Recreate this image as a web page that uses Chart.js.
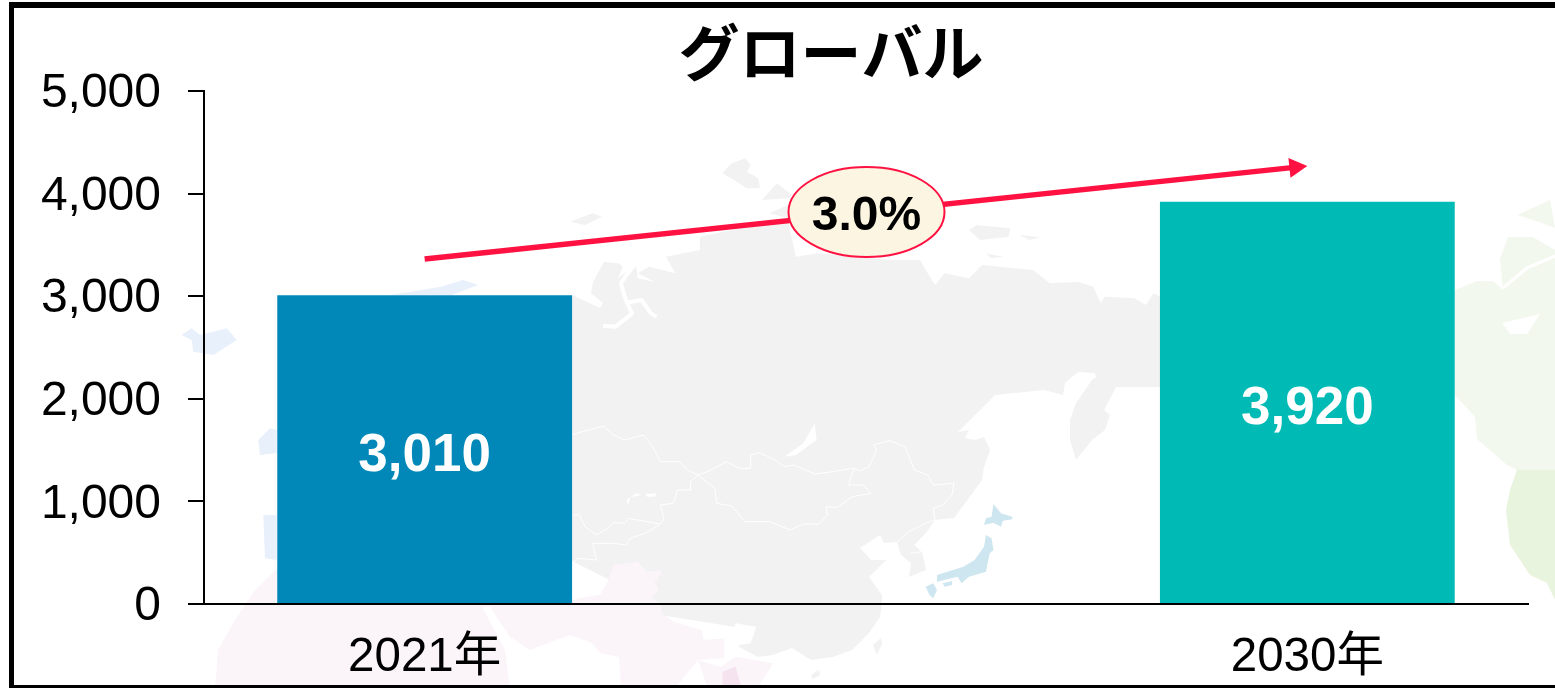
<!DOCTYPE html>
<html>
<head>
<meta charset="utf-8">
<title>グローバル</title>
<script src="https://cdn.jsdelivr.net/npm/chart.js@4"></script>
<style>
  html, body { margin: 0; padding: 0; background: #fff; overflow: hidden; }
  canvas { display: block; }
</style>
</head>
<body>
<canvas id="myChart" width="1555" height="688"></canvas>
<script>
const titleText = 'グローバル';
const categories = ['2021年', '', '2030年'];
const marketValues = [3010, null, 3920];
const barColors = ['#0288B8', '#0288B8', '#00BAB5'];
const trendValues = [3363, null, 4269];
const growthLabel = '3.0%';
const growthValue = 3820;
const yTicks = [0, 1000, 2000, 3000, 4000, 5000];

const FONT = '"Liberation Sans", "Noto Sans CJK JP", sans-serif';
const RED = '#FF1241';

// faint world map behind the chart
const crop = (ox, oy, sx, sy, pts) => pts.map(p => [ox + p[0] * sx, oy + p[1] * sy]);
const north = pts => crop(570, 150, 0.3764, 1 / 3, pts);
const south = pts => crop(570, 400, 0.3764, 1 / 3, pts);

const greyLand = [
  [572, 295], [600, 308], [603, 303], [591, 293], [593, 282], [604, 262],
  ...north([[130, 340], [140, 350], [128, 385], [150, 365], [175, 340], [180, 385], [225, 395], [180, 370], [210, 350],
    [280, 370], [255, 320], [345, 300], [345, 260], [430, 240], [580, 215], [600, 320], [660, 310], [850, 330], [930, 330],
    [945, 360], [970, 405], [995, 370], [1060, 385], [1095, 345], [1180, 355], [1230, 360], [1275, 400], [1350, 395],
    [1390, 410], [1410, 460], [1420, 440], [1500, 445], [1530, 465], [1550, 430], [1568, 440]]),
  [1165, 300], [1165, 387], [1116, 387], [1104, 410], [1110, 415], [1105, 430], [1092, 440], [1076, 460], [1070, 440],
  [1070, 420], [1076, 403], [1092, 380], [1112, 365], [1123, 366], [1097, 380], [1095, 373], [1078, 372], [1065, 383],
  [1063, 395], [1044, 390], [995, 395], [973, 417], [958, 432], [969, 430], [965, 438], [975, 440], [984, 437], [990, 450],
  [984, 467], [982, 480], [954, 518], [935, 520], [926, 533], [914, 545], [922, 552], [926, 570], [909, 577], [911, 563],
  [901, 555], [897, 542], [884, 543], [880, 535], [860, 548], [871, 560], [886, 560], [869, 577], [882, 595], [882, 600],
  [880, 617], [869, 633], [852, 650], [833, 657], [811, 660], [792, 648], [773, 655], [758, 657], [739, 647], [735, 627],
  [660, 615], [630, 590], [570, 560]
];
const greyIslands = [
  north([[0, 215], [60, 190], [85, 200], [40, 225]]),
  north([[405, 70], [430, 40], [465, 25], [480, 45], [470, 65], [500, 85], [505, 115], [470, 115], [435, 90]]),
  north([[510, 150], [550, 100], [590, 135], [580, 145]]),
  north([[530, 190], [580, 165], [580, 205]]),
  north([[1060, 240], [1080, 225], [1170, 235], [1165, 260], [1090, 270]]),
  north([[1195, 255], [1250, 262], [1220, 270]]),
  north([[1105, 310], [1150, 320], [1120, 325]]),
  south([[805, 735], [825, 715], [830, 730], [815, 765]]),
  south([[640, 825], [660, 810], [665, 825], [645, 838]])
];
const pinkLand = [
  [572, 600],
  ...south([[45, 590], [80, 585], [100, 545], [115, 495], [180, 485], [205, 515], [240, 510], [245, 520], [225, 545], [235, 570],
    [215, 595], [240, 610], [245, 640], [275, 665], [350, 690], [355, 720], [410, 715], [410, 775], [340, 780]]),
  [675, 688], [621, 688], [619, 657], [600, 653], [592, 643], [570, 635], [530, 650], [510, 637], [490, 607], [482, 607],
  [505, 650], [510, 688], [215, 688], [218, 650], [235, 620], [255, 590], [277, 568], [572, 568]
];
const pinkAsia = south([[340, 780], [400, 800], [440, 770], [540, 790], [500, 860], [365, 860]]);
const pinkDark = south([[405, 815], [440, 800], [455, 860], [405, 860]]);
const blueLand = [
  crop(170, 280, 1 / 3, 1 / 3, [[35, 165], [65, 145], [90, 165], [170, 145], [200, 180], [130, 225], [70, 215], [65, 180]]),
  crop(170, 280, 1 / 3, 1 / 3, [[265, 480], [300, 445], [320, 450], [320, 520], [270, 525]]),
  crop(170, 280, 1 / 3, 1 / 3, [[280, 705], [320, 705], [320, 840], [285, 835]]),
  [[390, 295], [440, 287], [463, 280], [478, 285], [452, 295]]
];
const japan = [
  south([[1125, 312], [1145, 340], [1175, 350], [1175, 358], [1150, 362], [1145, 380], [1125, 368], [1100, 375], [1105, 355], [1120, 350]]),
  south([[1105, 405], [1120, 415], [1125, 450], [1115, 460], [1105, 515], [1060, 530], [1040, 550], [1030, 530], [975, 545], [975, 525], [1045, 500], [1075, 480], [1100, 440]]),
  south([[990, 550], [1015, 543], [1015, 555], [995, 560]]),
  south([[945, 560], [965, 550], [975, 570], [965, 595], [955, 585]])
];
const canada = [
  [1455, 290], [1477, 281], [1493, 281], [1503, 290], [1500, 259], [1508, 237], [1533, 237], [1555, 250], [1555, 470],
  [1517, 470], [1507, 465], [1477, 439], [1475, 417], [1455, 395]
];
const canadaArctic = [[1517, 215], [1550, 200], [1555, 228], [1533, 220]];
const canadaLake = [[1502, 323], [1540, 314], [1527, 334], [1510, 334]];
const canadaChannel = [[1503, 288], [1527, 268], [1555, 256]];
const usa = [[1517, 470], [1555, 470], [1555, 600], [1547, 583], [1530, 575], [1510, 545], [1506, 510], [1510, 490]];
const borders = [
  south([[0, 105], [90, 78], [115, 105], [145, 120], [195, 105], [220, 140], [240, 185], [290, 185], [315, 212], [340, 225]]),
  south([[340, 225], [375, 210], [415, 185], [450, 205], [480, 205], [480, 165], [505, 158], [545, 180], [570, 200], [595, 195],
    [650, 222], [700, 215], [750, 205], [770, 212], [795, 200], [815, 150], [805, 135], [850, 122], [890, 140], [915, 210],
    [950, 225], [965, 255], [1020, 250], [1015, 285], [990, 315], [965, 325], [970, 360]]),
  south([[340, 225], [385, 265], [390, 310], [430, 318], [465, 365], [530, 365], [585, 390], [620, 372], [660, 372], [685, 345],
    [680, 320], [710, 322], [750, 290], [800, 280], [780, 255], [740, 255], [755, 205]]),
  south([[340, 225], [320, 245], [320, 270], [285, 270], [275, 310], [240, 315], [250, 355], [240, 372], [155, 355], [145, 370],
    [115, 368], [100, 385], [70, 405], [40, 380], [25, 345], [10, 345]]),
  south([[240, 372], [200, 400], [160, 415], [150, 435], [115, 430], [60, 430], [70, 480], [20, 475], [0, 495]]),
  south([[970, 360], [945, 370], [900, 395], [870, 425]]),
  south([[905, 460], [935, 455]])
];
const baltic = north([[88, 527], [121, 530], [165, 490], [150, 455], [135, 400], [150, 375], [175, 340]]);
const balticArm = north([[150, 458], [190, 450], [215, 490], [230, 500]]);
const whiteBlobs = [
  south([[570, 170], [620, 130], [650, 70], [655, 120], [600, 165]]),
  south([[150, 300], [175, 280], [190, 285], [160, 292], [155, 315]]),
  south([[200, 282], [230, 280], [225, 290], [205, 290]]),
  south([[440, 670], [495, 680], [480, 730], [420, 740]]),
  north([[585, 340], [660, 305], [610, 328]])
];

function fillPoly(ctx, pts, color) {
  ctx.fillStyle = color;
  ctx.beginPath();
  pts.forEach((p, i) => i ? ctx.lineTo(p[0], p[1]) : ctx.moveTo(p[0], p[1]));
  ctx.closePath();
  ctx.fill();
}

function strokeLine(ctx, pts, color, width) {
  ctx.strokeStyle = color;
  ctx.lineWidth = width;
  ctx.lineJoin = 'round';
  ctx.beginPath();
  pts.forEach((p, i) => i ? ctx.lineTo(p[0], p[1]) : ctx.moveTo(p[0], p[1]));
  ctx.stroke();
}

const backdrop = {
  id: 'backdrop',
  beforeDraw(chart) {
    const ctx = chart.ctx;
    ctx.save();
    ctx.fillStyle = '#fff';
    ctx.fillRect(0, 0, 1555, 688);
    fillPoly(ctx, greyLand, '#F2F2F2');
    greyIslands.forEach(p => fillPoly(ctx, p, '#F2F2F2'));
    whiteBlobs.forEach(p => fillPoly(ctx, p, '#fff'));
    strokeLine(ctx, baltic, '#fff', 4);
    strokeLine(ctx, balticArm, '#fff', 4);
    borders.forEach(p => strokeLine(ctx, p, '#fff', 1));
    fillPoly(ctx, pinkLand, '#FBF5FA');
    fillPoly(ctx, pinkAsia, '#FBF5FA');
    fillPoly(ctx, pinkDark, '#F5E3EF');
    blueLand.forEach(p => fillPoly(ctx, p, '#E8F0FC'));
    japan.forEach(p => fillPoly(ctx, p, '#CDE6F0'));
    fillPoly(ctx, canada, '#F3F8EE');
    fillPoly(ctx, canadaArctic, '#F3F8EE');
    fillPoly(ctx, canadaLake, '#fff');
    strokeLine(ctx, canadaChannel, '#fff', 3);
    fillPoly(ctx, usa, '#E9F4DF');
    // frame, open on the right
    ctx.fillStyle = '#000';
    ctx.fillRect(9, 2, 1546, 6);
    ctx.fillRect(9, 2, 5, 686);
    ctx.fillRect(9, 685, 1546, 3);
    ctx.restore();
  }
};

const annotations = {
  id: 'annotations',
  afterDatasetsDraw(chart) {
    const ctx = chart.ctx;
    const x = chart.scales.x;
    const y = chart.scales.y;
    ctx.save();

    // arrow head on the trend line
    const x0 = x.getPixelForValue(0), y0 = y.getPixelForValue(trendValues[0]);
    const x1 = x.getPixelForValue(2), y1 = y.getPixelForValue(trendValues[2]);
    const a = Math.atan2(y1 - y0, x1 - x0);
    ctx.translate(x1, y1);
    ctx.rotate(a);
    ctx.fillStyle = RED;
    ctx.beginPath();
    ctx.moveTo(0, 0);
    ctx.lineTo(-18, -10);
    ctx.lineTo(-18, 10);
    ctx.closePath();
    ctx.fill();
    ctx.setTransform(1, 0, 0, 1, 0, 0);

    // growth badge
    const bx = x.getPixelForValue(1) + 0.5;
    const by = y.getPixelForValue(growthValue);
    ctx.beginPath();
    ctx.ellipse(bx, by, 78, 45, 0, 0, Math.PI * 2);
    ctx.fillStyle = '#FBF5E1';
    ctx.fill();
    ctx.lineWidth = 2;
    ctx.strokeStyle = RED;
    ctx.stroke();
    ctx.fillStyle = '#000';
    ctx.textAlign = 'center';
    ctx.textBaseline = 'middle';
    ctx.font = 'bold 48px ' + FONT;
    ctx.fillText(growthLabel, bx, by + 5);

    // values inside the bars
    ctx.fillStyle = '#fff';
    ctx.font = 'bold 53px ' + FONT;
    chart.getDatasetMeta(0).data.forEach((bar, i) => {
      if (marketValues[i] == null) return;
      ctx.fillText(marketValues[i].toLocaleString('en-US'), bar.x, (bar.y + bar.base) / 2 + 7);
    });

    // title is off-centre in the picture
    ctx.fillStyle = '#000';
    ctx.font = 'bold 61px "Noto Sans CJK JP", sans-serif';
    ctx.fillText(titleText, 831, 53);
    ctx.restore();
  }
};

const config = {
  data: {
    labels: categories,
    datasets: [
      {
        type: 'bar',
        data: marketValues,
        backgroundColor: barColors,
        barPercentage: 0.668,
        categoryPercentage: 1,
        order: 2
      },
      {
        type: 'line',
        data: trendValues,
        spanGaps: true,
        borderColor: RED,
        borderWidth: 5.5,
        // stops the line at the base of the arrow head
        borderDash: [872, 100],
        pointRadius: 0,
        tension: 0,
        order: 1
      }
    ]
  },
  options: {
    responsive: false,
    animation: false,
    layout: { padding: { top: 91, right: 27, left: 0, bottom: 0 } },
    plugins: { legend: { display: false }, title: { display: false }, tooltip: { enabled: false } },
    scales: {
      x: {
        grid: { display: false },
        border: { color: '#000', width: 2 },
        ticks: { color: '#000', font: { family: FONT, size: 47.5 }, padding: 17, maxRotation: 0, autoSkip: false },
        afterFit: s => { s.height = 84; }
      },
      y: {
        min: 0,
        max: 5000,
        afterBuildTicks: s => { s.ticks = yTicks.map(v => ({ value: v })); },
        grid: { drawOnChartArea: false, drawTicks: true, tickLength: 16, color: '#000', lineWidth: 2 },
        border: { color: '#000', width: 2 },
        ticks: {
          color: '#000',
          // blank first line with a 6px line height pushes the label 3px down
          font: { family: FONT, size: 48, lineHeight: '6px' },
          padding: 27,
          callback: v => ['', v.toLocaleString('en-US')]
        },
        afterFit: s => { s.width = 204; }
      }
    }
  },
  plugins: [backdrop, annotations]
};

var myChart = new Chart(document.getElementById('myChart'), config);
</script>
</body>
</html>
